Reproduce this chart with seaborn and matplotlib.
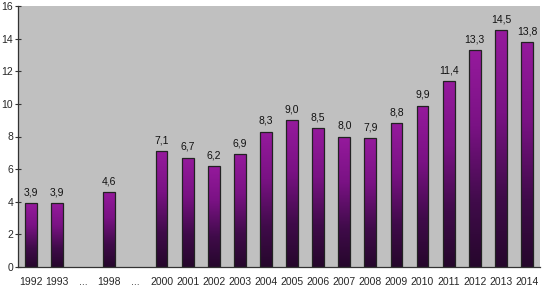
import numpy as np
import pandas as pd
import matplotlib
matplotlib.use("Agg")
import matplotlib.pyplot as plt
from matplotlib.colors import LinearSegmentedColormap
import seaborn as sns

categories = ["1992", "1993", "...", "1998", "...", "2000", "2001", "2002", "2003",
              "2004", "2005", "2006", "2007", "2008", "2009", "2010", "2011",
              "2012", "2013", "2014"]
values = [3.9, 3.9, np.nan, 4.6, np.nan, 7.1, 6.7, 6.2, 6.9, 8.3, 9.0, 8.5,
          8.0, 7.9, 8.8, 9.9, 11.4, 13.3, 14.5, 13.8]
y_ticks = [0, 2, 4, 6, 8, 10, 12, 14, 16]

sns.set_theme(style="white")
plt.rcParams['font.family'] = ['Liberation Sans', 'DejaVu Sans']

df = pd.DataFrame({"key": [f"c{i}" for i in range(len(categories))],
                   "value": values})

fig = plt.figure(figsize=(5.44, 2.87), dpi=100)
ax = fig.add_axes([18/544, 1-267/287, 522/544, 261/287])
ax.set_facecolor("#c0c0c0")

sns.barplot(data=df, x="key", y="value", ax=ax, width=0.45,
            color="#8a1490", edgecolor="#222222", linewidth=0.9,
            errorbar=None, zorder=2)

cmap = LinearSegmentedColormap.from_list(
    "grad", [(0.0, "#26072c"), (0.3, "#400b4a"), (0.65, "#7a1284"), (1.0, "#961a9d")])
grad = np.linspace(0, 1, 256).reshape(-1, 1)

for p in ax.patches:
    h = p.get_height()
    if not np.isfinite(h) or h <= 0:
        continue
    x0 = p.get_x(); w = p.get_width()
    im = ax.imshow(grad, cmap=cmap, origin="lower", aspect="auto",
                   extent=[x0, x0 + w, 0, h], zorder=2.5)
    im.set_clip_path(p)
    p.set_facecolor("none")
    p.set_zorder(3)
    ax.text(x0 + w/2, h + 0.35, f"{h:.1f}".replace(".", ","),
            ha="center", va="bottom", fontsize=7.5, color="#111111", zorder=4)

ax.set_xlim(-0.5, len(categories) - 0.5)
ax.set_ylim(0, 16)
ax.set_yticks(y_ticks)
ax.set_yticklabels([str(t) for t in y_ticks], fontsize=7.5)
ax.set_xticks(range(len(categories)))
ax.set_xticklabels(categories, fontsize=7.5)
ax.set_xticks(np.arange(-0.5, len(categories), 1), minor=True)
ax.tick_params(axis="x", which="major", length=0, pad=7)
ax.tick_params(axis="x", which="minor", direction="inout", length=6, width=0.8, color="#333333")
ax.tick_params(axis="y", direction="inout", length=5, width=0.8, color="#333333", pad=1, left=True)
ax.set_xlabel("")
ax.set_ylabel("")
for s in ["top", "right"]:
    ax.spines[s].set_visible(False)
for s in ["left", "bottom"]:
    ax.spines[s].set_color("#333333")
    ax.spines[s].set_linewidth(0.9)

fig.savefig("out.png", dpi=100, facecolor="white")
